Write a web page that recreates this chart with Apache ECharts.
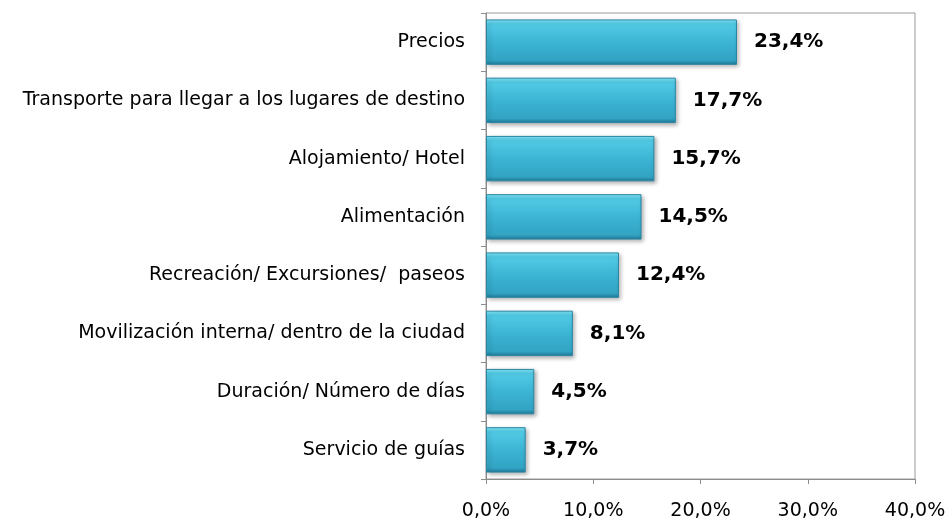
<!DOCTYPE html>
<html>
<head>
<meta charset="utf-8">
<script src="https://cdn.jsdelivr.net/npm/echarts@6/dist/echarts.min.js"></script>
<style>
  html, body { margin: 0; padding: 0; background: #fff; }
  #chart { width: 952px; height: 523px; }
</style>
</head>
<body>
<div id="chart"></div>
<script>
// categories bottom -> top (category axis on y starts at the bottom)
var categories = [
    "Servicio de guías",
    "Duración/ Número de días",
    "Movilización interna/ dentro de la ciudad",
    "Recreación/ Excursiones/  paseos",
    "Alimentación",
    "Alojamiento/ Hotel",
    "Transporte para llegar a los lugares de destino",
    "Precios"
];
var values = [3.7, 4.5, 8.1, 12.4, 14.5, 15.7, 17.7, 23.4];
var xTicks = [0, 10, 20, 30, 40];

var mychart = echarts.init(document.getElementById("chart"));

function fmt(v) {
    return v.toFixed(1).replace(".", ",") + "%";
}

var option = {
    animation: false,
    textStyle: {
        fontFamily: "DejaVu Sans"
    },
    grid: {
        left: 486,
        right: 37,
        top: 13,
        bottom: 44,
        show: true,
        borderColor: "#9a9a9a",
        borderWidth: 1
    },
    xAxis: {
        type: "value",
        min: xTicks[0],
        max: xTicks[xTicks.length - 1],
        interval: 10,
        axisLine: { show: true, lineStyle: { color: "#8c8c8c" } },
        axisTick: { show: true, length: 5, lineStyle: { color: "#8c8c8c" } },
        splitLine: { show: false },
        axisLabel: {
            color: "#000",
            fontSize: 19,
            margin: 23,
            formatter: function (v) { return fmt(v); }
        }
    },
    yAxis: {
        type: "category",
        data: categories,
        axisLine: { show: true, lineStyle: { color: "#8c8c8c" } },
        axisTick: { show: true, length: 5, lineStyle: { color: "#8c8c8c" } },
        axisLabel: {
            color: "#000",
            fontSize: 19,
            margin: 21
        }
    },
    series: [{
        type: "bar",
        data: values,
        barCategoryGap: "22%",
        itemStyle: {
            color: new echarts.graphic.LinearGradient(0, 0, 0, 1, [
                { offset: 0, color: "#86ecfc" },
                { offset: 0.1, color: "#52cbe6" },
                { offset: 0.5, color: "#3cb4d4" },
                { offset: 0.9, color: "#32a3c3" },
                { offset: 1, color: "#1f7896" }
            ]),
            borderColor: "#2a86a3",
            borderWidth: 1,
            shadowColor: "rgba(0,0,0,0.3)",
            shadowBlur: 4,
            shadowOffsetX: 2,
            shadowOffsetY: 2
        },
        label: {
            show: true,
            position: "right",
            distance: 17,
            color: "#000",
            fontSize: 20,
            fontWeight: "bold",
            formatter: function (p) { return fmt(p.value); }
        }
    }]
};

mychart.setOption(option);
</script>
</body>
</html>
